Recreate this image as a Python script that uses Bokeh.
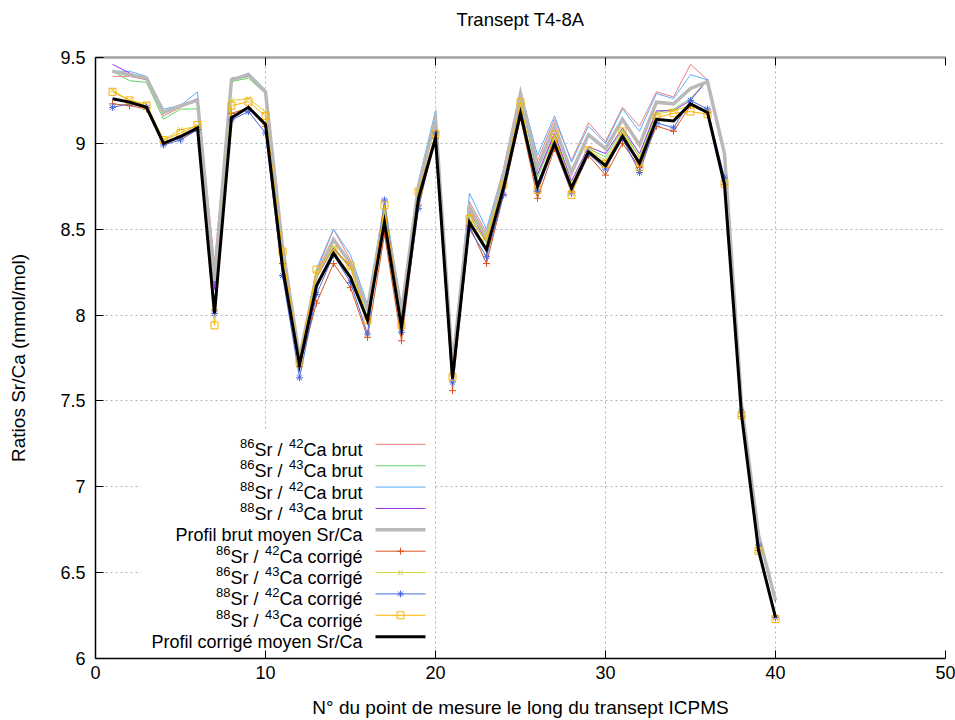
from bokeh.plotting import figure
from bokeh.models import Range1d, FixedTicker, LinearAxis, CustomJSTickFormatter, BoxAnnotation, ColumnDataSource
from bokeh.core.properties import value
from bokeh.embed import file_html
from bokeh.resources import INLINE

# ---------------- data ----------------
points = list(range(1, 41))

sr86_ca42_brut = [9.39, 9.39, 9.37, 9.16, 9.21, 9.25, 8.30, 9.37, 9.39, 9.30,
                  8.40, 7.76, 8.25, 8.50, 8.32, 8.05, 8.62, 8.03, 8.76, 9.16,
                  7.72, 8.66, 8.48, 8.84, 9.29, 8.90, 9.14, 8.90, 9.12, 9.01,
                  9.21, 9.10, 9.30, 9.27, 9.46, 9.37, 8.95, 7.48, 6.72, 6.34]
sr86_ca43_brut = [9.42, 9.365, 9.355, 9.14, 9.20, 9.20, 8.15, 9.36, 9.38, 9.29,
                  8.38, 7.74, 8.22, 8.40, 8.27, 8.02, 8.57, 7.99, 8.73, 9.12,
                  7.68, 8.58, 8.42, 8.79, 9.27, 8.80, 9.05, 8.76, 8.97, 8.92,
                  9.08, 8.92, 9.18, 9.20, 9.26, 9.37, 8.93, 7.47, 6.71, 6.33]
sr88_ca42_brut = [9.42, 9.42, 9.39, 9.20, 9.22, 9.30, 8.20, 9.37, 9.41, 9.31,
                  8.42, 7.74, 8.27, 8.50, 8.35, 8.06, 8.66, 8.04, 8.78, 9.19,
                  7.72, 8.71, 8.50, 8.85, 9.31, 8.93, 9.16, 8.89, 9.10, 9.00,
                  9.20, 9.07, 9.29, 9.26, 9.40, 9.37, 8.95, 7.49, 6.72, 6.34]
sr88_ca43_brut = [9.46, 9.41, 9.37, 9.185, 9.22, 9.26, 8.15, 9.38, 9.39, 9.29,
                  8.39, 7.73, 8.22, 8.39, 8.28, 8.06, 8.60, 8.01, 8.74, 9.14,
                  7.69, 8.60, 8.43, 8.80, 9.28, 8.82, 9.06, 8.78, 8.98, 8.94,
                  9.09, 8.94, 9.19, 9.19, 9.25, 9.37, 8.93, 7.47, 6.71, 6.33]
profil_brut_moyen = [9.42, 9.40, 9.38, 9.18, 9.22, 9.25, 8.20, 9.37, 9.40, 9.30,
                     8.40, 7.75, 8.23, 8.44, 8.30, 8.04, 8.60, 8.02, 8.75, 9.14,
                     7.70, 8.63, 8.45, 8.82, 9.29, 8.86, 9.10, 8.83, 9.05, 8.97,
                     9.14, 8.99, 9.24, 9.23, 9.32, 9.36, 8.94, 7.48, 6.72, 6.34]
sr86_ca42_corr = [9.23, 9.22, 9.20, 9.00, 9.03, 9.08, 8.03, 9.175, 9.205, 9.10,
                  8.30, 7.70, 8.07, 8.30, 8.16, 7.87, 8.47, 7.85, 8.64, 9.03,
                  7.56, 8.52, 8.30, 8.70, 9.15, 8.68, 8.97, 8.72, 8.93, 8.815,
                  9.00, 8.86, 9.10, 9.07, 9.22, 9.18, 8.76, 7.41, 6.63, 6.24]
sr86_ca43_corr = [9.31, 9.25, 9.23, 9.02, 9.08, 9.10, 8.02, 9.25, 9.26, 9.185,
                  8.36, 7.74, 8.24, 8.38, 8.27, 7.99, 8.60, 7.95, 8.71, 9.05,
                  7.66, 8.58, 8.46, 8.77, 9.22, 8.76, 9.04, 8.76, 8.96, 8.90,
                  9.06, 8.92, 9.17, 9.19, 9.22, 9.18, 8.77, 7.42, 6.63, 6.24]
sr88_ca42_corr = [9.21, 9.23, 9.21, 8.99, 9.02, 9.08, 8.01, 9.137, 9.185, 9.06,
                  8.23, 7.635, 8.12, 8.35, 8.19, 7.89, 8.67, 7.90, 8.62, 9.06,
                  7.61, 8.50, 8.34, 8.70, 9.17, 8.72, 8.99, 8.71, 8.94, 8.85,
                  9.03, 8.83, 9.12, 9.09, 9.25, 9.20, 8.80, 7.44, 6.66, 6.24]
sr88_ca43_corr = [9.30, 9.25, 9.22, 9.02, 9.06, 9.107, 7.94, 9.22, 9.243, 9.16,
                  8.37, 7.73, 8.265, 8.38, 8.29, 7.97, 8.64, 7.94, 8.72, 9.055,
                  7.64, 8.56, 8.43, 8.76, 9.24, 8.73, 9.05, 8.70, 8.96, 8.88,
                  9.07, 8.86, 9.15, 9.175, 9.185, 9.17, 8.765, 7.416, 6.627, 6.23]
profil_corr_moyen = [9.26, 9.24, 9.21, 9.00, 9.04, 9.09, 8.01, 9.15, 9.21, 9.11,
                     8.28, 7.71, 8.17, 8.36, 8.22, 7.97, 8.54, 7.93, 8.68, 9.03,
                     7.63, 8.54, 8.38, 8.74, 9.175, 8.75, 9.00, 8.74, 8.95, 8.87,
                     9.04, 8.885, 9.14, 9.13, 9.23, 9.18, 8.76, 7.42, 6.63, 6.24]

x_ticks = [0, 10, 20, 30, 40, 50]
x_tick_labels = ["0", "10", "20", "30", "40", "50"]
y_ticks = [6, 6.5, 7, 7.5, 8, 8.5, 9, 9.5]
y_tick_labels = ["6", "6.5", "7", "7.5", "8", "8.5", "9", "9.5"]

title_text = "Transept T4-8A"
x_label = "N° du point de mesure le long du transept ICPMS"
y_label = "Ratios Sr/Ca (mmol/mol)"

series = [
    (sr86_ca42_brut, ("86", "42", "brut"), "#f27a7a", 1, None),
    (sr86_ca43_brut, ("86", "43", "brut"), "#5fd35f", 1, None),
    (sr88_ca42_brut, ("88", "42", "brut"), "#5aaefc", 1, None),
    (sr88_ca43_brut, ("88", "43", "brut"), "#a030e0", 1, None),
    (profil_brut_moyen, "Profil brut moyen Sr/Ca", "#b9b9b9", 3.5, None),
    (sr86_ca42_corr, ("86", "42", "corrigé"), "#d9541e", 1, "cross"),
    (sr86_ca43_corr, ("86", "43", "corrigé"), "#d2d236", 1, "x"),
    (sr88_ca42_corr, ("88", "42", "corrigé"), "#4a6ae0", 1, "asterisk"),
    (sr88_ca43_corr, ("88", "43", "corrigé"), "#ffb000", 1, "square"),
    (profil_corr_moyen, "Profil corrigé moyen Sr/Ca", "#000000", 3, None),
]

FONT = "Liberation Sans"

# ---------------- figure ----------------
W, H = 955, 720
ML, MR, MT, MB = 95, 10, 57, 61
p = figure(width=W, height=H, output_backend="svg", toolbar_location=None,
           x_range=Range1d(0, 50), y_range=Range1d(6, 9.5),
           min_border_left=ML, min_border_right=MR, min_border_top=MT, min_border_bottom=MB,
           background_fill_color="white", border_fill_color="white")
p.outline_line_color = None

xfmt = CustomJSTickFormatter(args=dict(tk=x_ticks, lb=x_tick_labels),
                             code="const i = tk.indexOf(tick); return i >= 0 ? lb[i] : String(tick);")
yfmt = CustomJSTickFormatter(args=dict(tk=y_ticks, lb=y_tick_labels),
                             code="const i = tk.indexOf(tick); return i >= 0 ? lb[i] : String(tick);")

p.xaxis.ticker = FixedTicker(ticks=x_ticks)
p.yaxis.ticker = FixedTicker(ticks=y_ticks)
p.xaxis.formatter = xfmt
p.yaxis.formatter = yfmt
for ax in (p.xaxis[0], p.yaxis[0]):
    ax.major_tick_in = 8
    ax.major_tick_out = 0
    ax.minor_tick_line_color = None
    ax.axis_line_color = "#000000"
    ax.axis_line_width = 1.5
    ax.major_tick_line_color = "#000000"
    ax.major_label_text_font = FONT
    ax.major_label_text_font_size = "18px"
    ax.major_label_text_color = "#000000"
    ax.axis_label_text_font = FONT
    ax.axis_label_text_font_size = "19px"
    ax.axis_label_text_font_style = "normal"
    ax.axis_label_text_color = "#000000"
p.xaxis.axis_label = x_label
p.yaxis.axis_label = y_label
p.xaxis.major_label_standoff = 7
p.xaxis.axis_label_standoff = 15
p.yaxis.major_label_standoff = 10
p.yaxis.axis_label_standoff = 28

# top border with inward ticks; its axis label serves as the chart title
top_axis = LinearAxis(ticker=FixedTicker(ticks=x_ticks),
                      formatter=CustomJSTickFormatter(code="return '';"),
                      axis_line_color="#a0a0a0", axis_line_width=2.5,
                      major_tick_in=8, major_tick_out=0,
                      major_tick_line_color="#000000", minor_tick_line_color=None,
                      major_label_standoff=0,
                      axis_label=title_text, axis_label_standoff=28,
                      axis_label_text_font=FONT, axis_label_text_font_size="18.5px",
                      axis_label_text_font_style="normal", axis_label_text_color="#000000")
p.add_layout(top_axis, "above")

p.xgrid.ticker = FixedTicker(ticks=x_ticks)
p.ygrid.ticker = FixedTicker(ticks=y_ticks)
for g in (p.xgrid[0], p.ygrid[0]):
    g.grid_line_color = "#b4b4b4"
    g.grid_line_dash = "2 3"
    g.grid_line_width = 1

# ---------------- legend background ----------------
FW = W - ML - MR
FH = H - MT - MB
def px_x(px):  # pixels from frame left -> data
    return px / FW * 50.0
def px_y(py):  # pixels from frame top -> data
    return 9.5 - py / FH * 3.5

leg_left, leg_right, leg_top, leg_bottom = 45, 338, 374, 592
p.add_layout(BoxAnnotation(left=px_x(leg_left), right=px_x(leg_right),
                           top=px_y(leg_top), bottom=px_y(leg_bottom),
                           fill_color="white", fill_alpha=1.0, line_color=None,
                           level="underlay"))

# ---------------- series ----------------
for vals, lab, col, lw, mk in series:
    p.line(points, vals, line_color=col, line_width=lw, line_join="miter")
    if mk is not None:
        p.scatter(points, vals, marker=mk, size=7, line_color=col, fill_color=None, line_width=1)

# ---------------- legend (gnuplot style: right-aligned text, sample on right) ----------------
ARIAL = {' ': 278, '/': 278, 'C': 722, 'S': 667, 'P': 667, 'a': 556, 'b': 556, 'c': 500,
         'e': 556, 'f': 278, 'g': 556, 'i': 222, 'l': 222, 'm': 833, 'n': 556, 'o': 556,
         'r': 333, 't': 278, 'u': 556, 'y': 500, 'é': 556}
for d in "0123456789":
    ARIAL[d] = 556
def tw(s, size):
    return sum(ARIAL.get(c, 556) for c in s) * size / 1000.0

NORM, SUP = 18, 13
text_right = 267
row0, row_step = 387.5, 21.4
sample_x0, sample_x1 = 280, 330
sup_raise = 6.5

norm = dict(x=[], y=[], text=[])
sup = dict(x=[], y=[], text=[])
for k, (vals, lab, col, lw, mk) in enumerate(series):
    ly = row0 + k * row_step
    base = ly + 5.5
    if isinstance(lab, tuple):
        pieces = [(lab[0], True), ("Sr / ", False), (lab[1], True), ("Ca " + lab[2], False)]
    else:
        pieces = [(lab, False)]
    xr = text_right
    for txt, is_sup in reversed(pieces):
        size = SUP if is_sup else NORM
        w = tw(txt, size)
        xs = xr - w
        if is_sup:
            sup["x"].append(px_x(xs)); sup["y"].append(px_y(base - sup_raise)); sup["text"].append(txt)
        else:
            norm["x"].append(px_x(xs)); norm["y"].append(px_y(base)); norm["text"].append(txt)
        xr = xs - (1.5 if is_sup else 0)
    p.line([px_x(sample_x0), px_x(sample_x1)], [px_y(ly), px_y(ly)], line_color=col, line_width=lw)
    if mk is not None:
        p.scatter([px_x((sample_x0 + sample_x1) / 2)], [px_y(ly)], marker=mk, size=7,
                  line_color=col, fill_color=None, line_width=1)

p.text(x="x", y="y", text="text", source=ColumnDataSource(norm), text_align="left",
       text_baseline="alphabetic", text_font=value(FONT), text_font_size="18px", text_color="#000000")
p.text(x="x", y="y", text="text", source=ColumnDataSource(sup), text_align="left",
       text_baseline="alphabetic", text_font=value(FONT), text_font_size="13px", text_color="#000000")

open("out.html", "w").write(file_html(p, INLINE))
